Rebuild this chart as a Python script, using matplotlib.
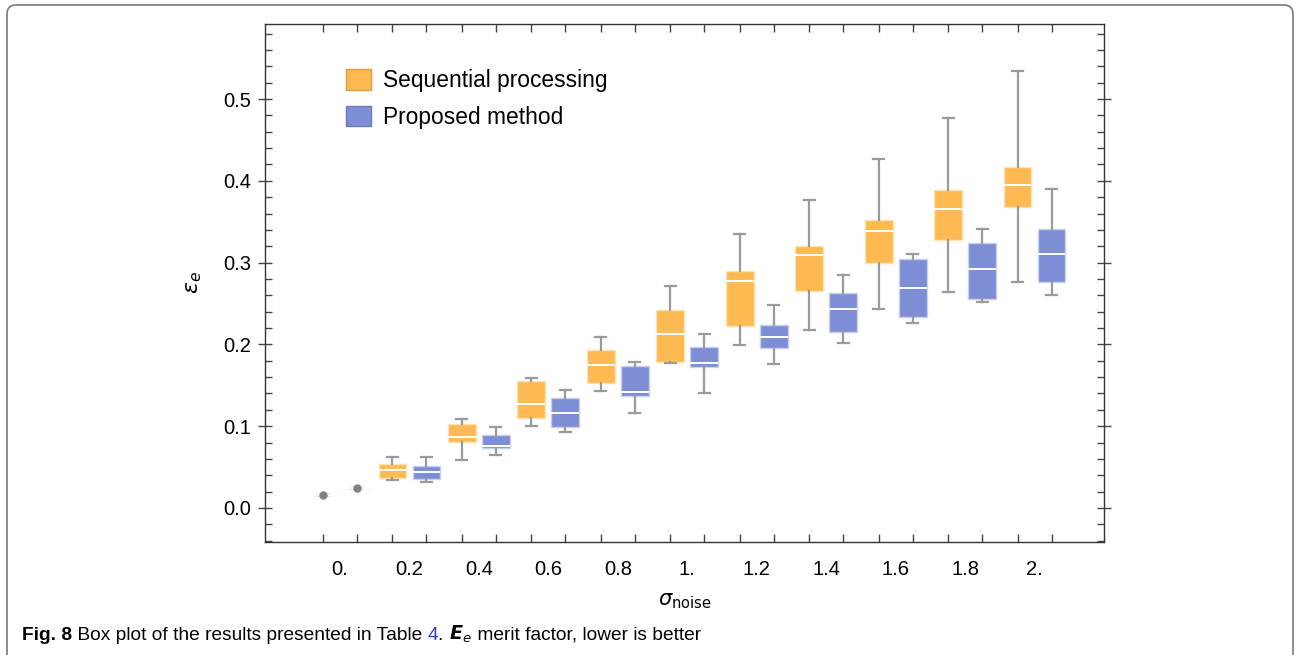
import matplotlib
matplotlib.use("Agg")
import matplotlib.pyplot as plt
from matplotlib.patches import FancyBboxPatch, Patch

plt.rcParams["font.family"] = ["Liberation Sans", "DejaVu Sans"]
plt.rcParams["mathtext.fontset"] = "dejavusans"

# sigma_noise groups
group_labels = ["0.", "0.2", "0.4", "0.6", "0.8", "1.", "1.2", "1.4", "1.6", "1.8", "2."]

# Sequential processing (whisker low, Q1, median, Q3, whisker high)
seq_lo = [0.0163, 0.0346, 0.0587, 0.0998, 0.1430, 0.1768, 0.1993, 0.2180, 0.2437, 0.2640, 0.2767]
seq_q1 = [0.0163, 0.0370, 0.0803, 0.1096, 0.1532, 0.1790, 0.2229, 0.2657, 0.2999, 0.3272, 0.3680]
seq_med = [0.0163, 0.0469, 0.0868, 0.1270, 0.1744, 0.2130, 0.2771, 0.3093, 0.3383, 0.3651, 0.3945]
seq_q3 = [0.0163, 0.0534, 0.1027, 0.1550, 0.1936, 0.2420, 0.2893, 0.3203, 0.3520, 0.3892, 0.4173]
seq_hi = [0.0163, 0.0620, 0.1090, 0.1590, 0.2095, 0.2718, 0.3350, 0.3765, 0.4267, 0.4772, 0.5342]

# Proposed method
prop_lo = [0.0241, 0.0320, 0.0644, 0.0930, 0.1157, 0.1410, 0.1756, 0.2021, 0.2258, 0.2518, 0.2608]
prop_q1 = [0.0241, 0.0350, 0.0738, 0.0994, 0.1373, 0.1724, 0.1952, 0.2152, 0.2331, 0.2559, 0.2767]
prop_med = [0.0241, 0.0436, 0.0762, 0.1165, 0.1414, 0.1776, 0.2094, 0.2429, 0.2686, 0.2926, 0.3105]
prop_q3 = [0.0241, 0.0513, 0.0892, 0.1350, 0.1732, 0.1972, 0.2233, 0.2632, 0.3048, 0.3236, 0.3415]
prop_hi = [0.0241, 0.0620, 0.0994, 0.1440, 0.1785, 0.2131, 0.2486, 0.2848, 0.3105, 0.3407, 0.3904]

series = [
    ("Sequential processing", "#fdba53", "#ffe2ae", "#e0a040", seq_lo, seq_q1, seq_med, seq_q3, seq_hi, -0.245),
    ("Proposed method", "#7e8ed5", "#c7cff0", "#6a78bc", prop_lo, prop_q1, prop_med, prop_q3, prop_hi, 0.245),
]

fig = plt.figure(figsize=(12.94, 6.55), dpi=100)

# outer panel frame + caption, in pixel coordinates
frame = fig.add_axes([0, 0, 1, 1], zorder=0)
frame.set_xlim(0, 1294)
frame.set_ylim(655, 0)
frame.axis("off")
frame.add_patch(
    FancyBboxPatch(
        (7, 5), 1286, 720,
        boxstyle="round,pad=0,rounding_size=9",
        facecolor="none", edgecolor="#7a7a7a", lw=1.2,
    )
)

ax = fig.add_axes([265 / 1294, 113 / 655, 839 / 1294, 518 / 655], zorder=1)
ax.set_facecolor("none")

for name, color, edge, legend_edge, lo, q1, med, q3, hi, off in series:
    stats = []
    for i in range(len(group_labels)):
        stats.append({"whislo": lo[i], "q1": q1[i], "med": med[i], "q3": q3[i], "whishi": hi[i], "fliers": []})
    positions = [i + off for i in range(len(group_labels))]
    ax.bxp(
        stats,
        positions=positions,
        widths=0.40,
        capwidths=0.16,
        patch_artist=True,
        showfliers=False,
        boxprops=dict(facecolor=color, edgecolor=edge, lw=1.0),
        medianprops=dict(color="white", lw=1.4),
        whiskerprops=dict(color="#9a9a9a", lw=1.6),
        capprops=dict(color="#9a9a9a", lw=1.6),
        manage_ticks=False,
    )
    # collapsed boxes show up as a single dot
    for i, p in enumerate(positions):
        if hi[i] - lo[i] < 0.002:
            ax.plot(p, med[i], "o", color="#808080", ms=5, zorder=5)

box_pos = sorted([i + s[9] for s in series for i in range(len(group_labels))])

ax.set_xlim(-1.08, 11.0)
ax.set_ylim(-0.0416, 0.5917)

ax.set_xticks(range(len(group_labels)))
ax.set_xticklabels(group_labels)
ax.set_xticks(box_pos, minor=True)
ax.tick_params(axis="x", which="major", length=0, pad=13, labelsize=14.5)
ax.tick_params(axis="x", which="minor", direction="in", length=6, width=1, color="#444444", top=True)

ax.set_yticks([0.0, 0.1, 0.2, 0.3, 0.4, 0.5])
ax.set_yticklabels(["0.0", "0.1", "0.2", "0.3", "0.4", "0.5"])
ax.set_yticks([i * 0.02 - 0.04 for i in range(32)], minor=True)
ax.tick_params(axis="y", which="major", direction="inout", length=10, width=1, color="#444444",
               right=True, labelsize=14.5, pad=5)
ax.tick_params(axis="y", which="minor", direction="in", length=5, width=1, color="#444444", right=True)

for sp in ax.spines.values():
    sp.set_color("#333333")
    sp.set_linewidth(1.0)

ax.set_xlabel(r"$\sigma_{\mathrm{noise}}$", fontsize=15, labelpad=9)
ax.set_ylabel(r"$\varepsilon_e$", fontsize=16, labelpad=14)

handles = [Patch(facecolor=s[1], edgecolor=s[3], lw=1.0) for s in series]
ax.legend(
    handles, [s[0] for s in series],
    loc="upper left", bbox_to_anchor=(0.072, 0.952),
    frameon=False, fontsize=16.4,
    handlelength=1.1, handleheight=1.0, handletextpad=0.55, labelspacing=0.6,
)

# caption, written piece by piece
renderer = fig.canvas.get_renderer()
cap_font = ["Liberation Sans Narrow", "Liberation Sans", "DejaVu Sans"]
pieces = [
    ("Fig. 8", "bold", "black"),
    (" Box plot of the results presented in Table ", "normal", "black"),
    ("4", "normal", "#2a3cd6"),
    (". ", "normal", "black"),
    (r"$\mathbfit{E}_{e}$", "bold", "black"),
    (" merit factor, lower is better", "normal", "black"),
]
x = 22
for txt, weight, col in pieces:
    t = frame.text(x, 640, txt, fontsize=13.8, fontweight=weight, color=col,
                   family=cap_font, va="baseline", ha="left")
    bb = t.get_window_extent(renderer)
    x += bb.width

fig.savefig("out.png", dpi=100)
